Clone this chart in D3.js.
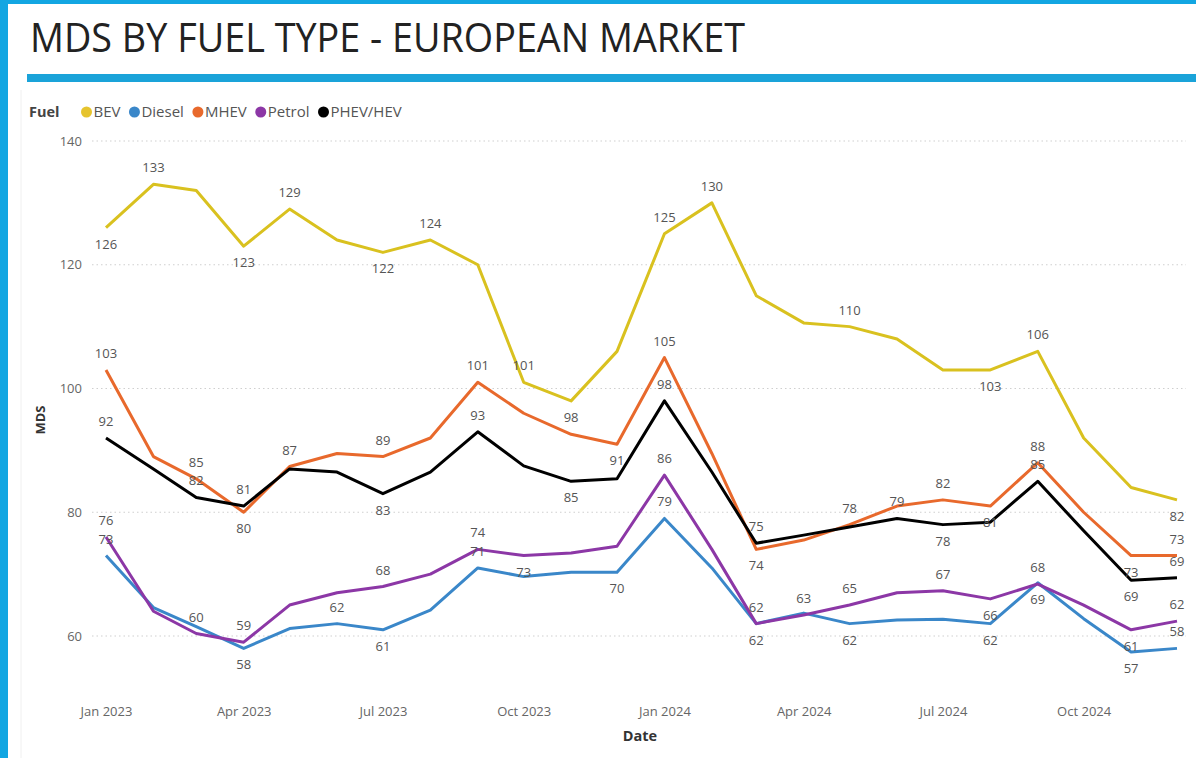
<!DOCTYPE html>
<html>
<head>
<meta charset="utf-8">
<script src="https://cdn.jsdelivr.net/npm/d3@7"></script>
<style>
  body { margin: 0; background: #12a6e2; }
  svg { display: block; }
</style>
</head>
<body>
<div id="chart"></div>
<script>
// months Jan 2023 .. Dec 2024
const months = d3.range(24).map(i => new Date(2023, i, 1));
const fuels = ["BEV", "Diesel", "MHEV", "Petrol", "PHEV/HEV"];
const colors = ["#d9c11f", "#3a87c9", "#e8692c", "#8c37a6", "#000000"];
const legendDots = ["#e6c42e", "#3a87c9", "#e8692c", "#8c37a6", "#000000"];

const bev    = [126, 133, 132, 123, 129, 124, 122, 124, 120, 101, 98, 106, 125, 130, 115, 110.6, 110, 108, 103, 103, 106, 92, 84, 82];
const diesel = [73, 64.6, 61.5, 58, 61.2, 62, 61, 64.2, 71, 69.6, 70.3, 70.3, 79, 71, 62, 63.7, 62, 62.6, 62.7, 62, 68.6, 62.8, 57.4, 58];
const mhev   = [103, 89, 85.4, 80, 87.4, 89.5, 89, 92, 101, 96, 92.6, 91, 105, 89.5, 74, 75.5, 78, 81, 82, 81, 88, 80, 73, 73];
const petrol = [76, 64, 60.4, 59, 65, 67, 68, 70, 74, 73, 73.4, 74.5, 86, 74, 62, 63.4, 65, 67, 67.3, 66, 68.4, 65, 61, 62.4];
const phev   = [92, 87, 82.4, 81, 87, 86.5, 83, 86.5, 93, 87.5, 85, 85.4, 98, 86.5, 75, 76.3, 77.6, 79, 78, 78.4, 85, 77, 69, 69.4];

// which data labels show, one char per month: a = above, b = below, . = none
const labBev    = "ba.ba.ba.ab.aa..a..ba..b";
const labDiesel = "a..b.ab.a..ba.b.b..bb.ba";
const labMhev   = "a.aba.a.a..ba.b.a.aba.ba";
const labPetrol = "a.aa..a.ab..a.aaa.aba.ba";
const labPhev   = "a.aa..b.a.b.a.a..ab.a.ba";

const yTicks = [60, 80, 100, 120, 140];
const xTicks = [new Date(2023,0,1), new Date(2023,3,1), new Date(2023,6,1), new Date(2023,9,1),
                new Date(2024,0,1), new Date(2024,3,1), new Date(2024,6,1), new Date(2024,9,1)];

const series = [bev, diesel, mhev, petrol, phev];
const labs = [labBev, labDiesel, labMhev, labPetrol, labPhev];

const W = 1196, H = 758;
const font = "'Open Sans', 'Noto Sans', sans-serif";

const svg = d3.select("#chart").append("svg")
  .attr("width", W).attr("height", H);

// background card
svg.append("rect").attr("x", 0).attr("y", 0).attr("width", W).attr("height", H).attr("fill", "#12a6e2");
svg.append("rect").attr("x", 8).attr("y", 4).attr("width", W - 8).attr("height", H - 4).attr("fill", "#ffffff");

// title
svg.append("text")
  .attr("x", 30).attr("y", 52)
  .attr("textLength", 715).attr("lengthAdjust", "spacingAndGlyphs")
  .style("font-family", font).style("font-size", "40px").style("font-weight", 400)
  .attr("fill", "#222")
  .text("MDS BY FUEL TYPE - EUROPEAN MARKET");

svg.append("rect").attr("x", 27).attr("y", 74).attr("width", W - 27).attr("height", 8).attr("fill", "#1aa3d9");
svg.append("line").attr("x1", 21).attr("x2", 21).attr("y1", 90).attr("y2", H)
  .attr("stroke", "#f0f0f0").attr("stroke-width", 1);

// legend
const legend = svg.append("g").attr("transform", "translate(29,112)");
const fuelLabel = legend.append("text")
  .attr("x", 0).attr("dy", "0.35em")
  .style("font-family", font).style("font-size", "14.5px").style("font-weight", 700)
  .attr("fill", "#444").text("Fuel");
let lx = fuelLabel.node().getComputedTextLength() + 22;
fuels.forEach((f, i) => {
  legend.append("circle").attr("cx", lx + 5).attr("cy", 0).attr("r", 5.5).attr("fill", legendDots[i]);
  const t = legend.append("text")
    .attr("x", lx + 12).attr("dy", "0.35em")
    .style("font-family", font).style("font-size", "15px")
    .attr("fill", "#555").text(f);
  lx += 12 + t.node().getComputedTextLength() + 9;
});

// scales
const x = d3.scaleTime()
  .domain([months[0], months[months.length - 1]])
  .range([106, 1177]);
const y = d3.scaleLinear()
  .domain([60, 140])
  .range([636, 141]);

// gridlines
svg.append("g").selectAll("line")
  .data(yTicks).enter().append("line")
  .attr("x1", 92).attr("x2", 1186)
  .attr("y1", d => y(d)).attr("y2", d => y(d))
  .attr("stroke", "#cfcfcf").attr("stroke-width", 1)
  .attr("stroke-dasharray", "1.5,3");

const yAxis = svg.append("g")
  .attr("transform", "translate(82,0)")
  .call(d3.axisLeft(y).tickValues(yTicks).tickSize(0).tickPadding(0));
yAxis.select(".domain").remove();
yAxis.selectAll("text")
  .style("font-family", font).style("font-size", "13px").attr("fill", "#666");

const xAxis = svg.append("g")
  .attr("transform", "translate(0,707)")
  .call(d3.axisBottom(x).tickValues(xTicks).tickFormat(d3.timeFormat("%b %Y")).tickSize(0).tickPadding(0));
xAxis.select(".domain").remove();
xAxis.selectAll("text")
  .style("font-family", font).style("font-size", "13px").attr("fill", "#666");

svg.append("text")
  .attr("x", 640).attr("y", 741).attr("text-anchor", "middle")
  .style("font-family", font).style("font-size", "14.5px").style("font-weight", 700)
  .attr("fill", "#333").text("Date");

svg.append("text")
  .attr("transform", "translate(45,420) rotate(-90)")
  .attr("text-anchor", "middle")
  .style("font-family", font).style("font-size", "13px").style("font-weight", 700)
  .attr("fill", "#333").text("MDS");

// lines
const line = d3.line()
  .x((d, i) => x(months[i]))
  .y(d => y(d));

series.forEach((s, k) => {
  svg.append("path")
    .datum(s)
    .attr("fill", "none")
    .attr("stroke", colors[k])
    .attr("stroke-width", 3)
    .attr("stroke-linejoin", "round")
    .attr("d", line);
});

// data labels
const fmt = d3.format(".0f");
series.forEach((s, k) => {
  const pos = labs[k].split("");
  const pts = s.map((v, i) => ({ v, i, p: pos[i] })).filter(d => d.p === "a" || d.p === "b");
  svg.append("g").selectAll("text")
    .data(pts).enter().append("text")
    .attr("x", d => x(months[d.i]))
    .attr("y", d => y(d.v) + (d.p === "a" ? -16.5 : 16.5))
    .attr("dy", "0.35em")
    .attr("text-anchor", "middle")
    .style("font-family", font).style("font-size", "13px")
    .attr("fill", "#555")
    .text(d => fmt(d.v));
});
</script>
</body>
</html>
